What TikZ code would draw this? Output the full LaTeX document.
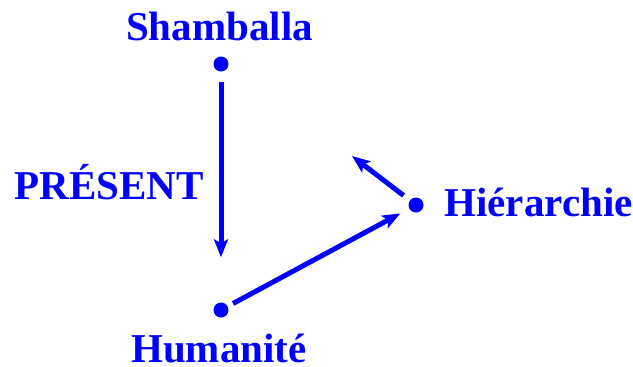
\documentclass[tikz,border=0pt]{standalone}
\usepackage{fontspec}
\setmainfont{Liberation Serif}
\usetikzlibrary{arrows.meta}
\tikzset{
  spot/.style={circle,fill=blue,inner sep=0pt,minimum size=15pt},
  tag/.style={font=\bfseries\fontsize{41}{48}\selectfont,text=blue,inner sep=0pt,anchor=base},
  flow/.style={-{Stealth[length=18pt,width=14pt,inset=4pt]},line width=5pt,blue}
}
\begin{document}
\begin{tikzpicture}[x=1pt,y=-1pt]
  \useasboundingbox (0,0) rectangle (633,367);
  \node[spot] (sham) at (221,64) {};
  \node[spot] (hum) at (221,310) {};
  \node[spot] (hier) at (416,205) {};
  \coordinate (up) at (352,156);
  \node[tag] (shamtxt) at (219.5,40) {Shamballa};
  \node[tag] (humtxt) at (219,362) {Humanité};
  \node[tag] (hiertxt) at (538.5,216) {Hiérarchie};
  \node[tag] (now) at (109,199) {PRÉSENT};
  \draw[flow,shorten <=10pt,shorten >=45pt] (sham) -- (hum);
  \draw[flow,shorten <=6pt,shorten >=10pt] (hum) -- (hier);
  \draw[flow,shorten <=8pt] (hier) -- (up);
\end{tikzpicture}
\end{document}
